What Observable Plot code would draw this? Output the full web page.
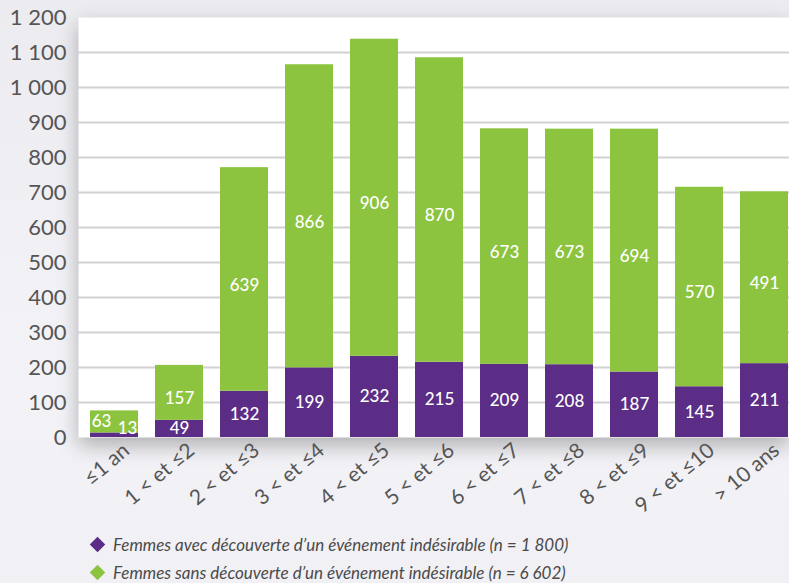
<!DOCTYPE html>
<html><head><meta charset="utf-8">
<script src="https://cdn.jsdelivr.net/npm/d3@7"></script>
<script src="https://cdn.jsdelivr.net/npm/@observablehq/plot@0.6"></script>
<style>
html,body{margin:0;padding:0;width:789px;height:583px;overflow:hidden;background:linear-gradient(#ecebf0,#f3f2f6 60%,#f1f0f4);font-family:Lato,"Open Sans",sans-serif;}
#chart{position:absolute;left:0;top:0;}
.legend{position:absolute;left:88px;font-style:italic;font-size:17px;color:#4a4a4a;display:flex;align-items:center;}
.legend i{display:inline-block;width:11px;height:11px;transform:rotate(45deg);margin-right:10px;margin-left:4px;}
</style></head>
<body>
<div id="chart"></div>
<div class="legend" style="top:534px"><i style="background:#5b2d86"></i>Femmes avec découverte d’un événement indésirable (n = 1 800)</div>
<div class="legend" style="top:562px"><i style="background:#8cc43f"></i>Femmes sans découverte d’un événement indésirable (n = 6 602)</div>
<script>
const categories = ["≤1 an","1 < et ≤2","2 < et ≤3","3 < et ≤4","4 < et ≤5","5 < et ≤6","6 < et ≤7","7 < et ≤8","8 < et ≤9","9 < et ≤10","> 10 ans"];
const avecValues = [13,49,132,199,232,215,209,208,187,145,211];
const sansValues = [63,157,639,866,906,870,673,673,694,570,491];
const yTicks = [0,100,200,300,400,500,600,700,800,900,1000,1100,1200];
const yTickLabels = ["0","100","200","300","400","500","600","700","800","900","1 000","1 100","1 200"];
const seriesNames = ["avec","sans"];
const colors = ["#5b2d86","#8cc43f"];

const rows = [];
categories.forEach((c,i)=>{
  rows.push({cat:c, serie:"avec", value:avecValues[i], y1:0, y2:avecValues[i], idx:i});
  rows.push({cat:c, serie:"sans", value:sansValues[i], y1:avecValues[i], y2:avecValues[i]+sansValues[i], idx:i});
});
const labelFmt = (v)=>String(v);
const lblStyle = {fill:"white", fontSize:17, fontWeight:500};

const chart = Plot.plot({
  width: 789, height: 525,
  marginLeft: 78, marginRight: 0, marginTop: 17, marginBottom: 88,
  style: {background:"transparent", fontFamily:"Lato, 'Open Sans', sans-serif"},
  x: {domain: categories, range:[78, 800], paddingInner:0.268, paddingOuter:0.137, label:null},
  y: {domain:[0,1200], label:null},
  color: {domain: seriesNames, range: colors},
  marks: [
    Plot.frame({fill:"white", stroke:null}),
    Plot.ruleY(yTicks.filter(t=>t>0 && t<1200), {stroke:"#d2d2d2", strokeWidth:1.8}),
    Plot.axisY(yTicks, {tickSize:0, tickPadding:12, fontSize:22, fill:"#555", tickFormat:(d)=>yTickLabels[yTicks.indexOf(d)], label:null}),
    Plot.axisX({tickSize:0, tickRotate:-40, fontSize:21, fill:"#555", tickPadding:10, dx:12, label:null}),
    Plot.rectY(rows, {x:"cat", y1:"y1", y2:"y2", fill:"serie"}),
    Plot.text(rows.filter(r=>r.idx>0 && r.serie==="avec"), {x:"cat", y:(r)=>(r.y1+r.y2)/2, text:(r)=>labelFmt(r.value), ...lblStyle}),
    Plot.text(rows.filter(r=>r.idx>0 && r.serie==="sans"), {x:"cat", y:(r)=>(r.y1+r.y2)/2, text:(r)=>labelFmt(r.value), ...lblStyle, dy:6}),
    Plot.text(rows.filter(r=>r.idx===0 && r.serie==="sans"), {x:"cat", y:(r)=>(r.y1+r.y2)/2, text:(r)=>labelFmt(r.value), ...lblStyle, dx:-13}),
    Plot.text(rows.filter(r=>r.idx===0 && r.serie==="avec"), {x:"cat", y:(r)=>r.y2, text:(r)=>labelFmt(r.value), ...lblStyle, dx:13, dy:-4})
  ]
});
const fr = chart.querySelector('[aria-label="frame"]');
if (fr) fr.style.filter = "drop-shadow(0 8px 10px rgba(0,0,0,0.28))";
document.getElementById("chart").appendChild(chart);
</script>
</body></html>
